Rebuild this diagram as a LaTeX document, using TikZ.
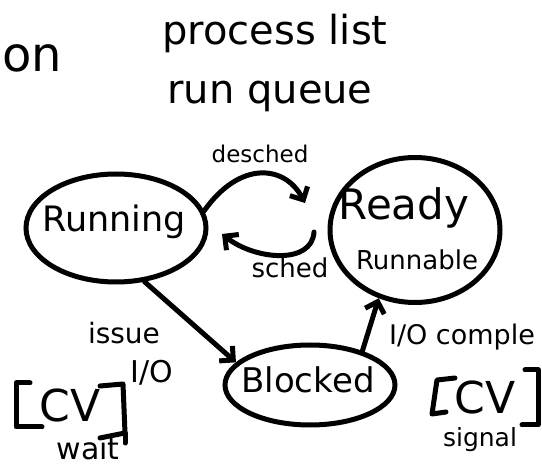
\documentclass[tikz,border=0pt]{standalone}
\usepackage{fontspec}
\setmainfont{DejaVu Sans}
\usetikzlibrary{arrows.meta,shapes.geometric}
\begin{document}
\begin{tikzpicture}[x=1pt,y=-1pt,
  state/.style={draw,ellipse,line width=5pt,inner sep=0pt},
  conn/.style={line width=5pt,-{Straight Barb[length=10pt,width=20pt,line width=5pt]},line cap=round},
  fs/.style={font=\fontsize{#1}{#1}\selectfont},
  brk/.style={line width=5pt,line cap=round,line join=round}]
\useasboundingbox (0,0) rectangle (542,470);
% heading texts
\node[fs=48,anchor=west,inner sep=0pt] (on) at (2,58) {on};
\node[fs=40] (plist) at (275,33) {process list};
\node[fs=40] (rq) at (270,96) {run queue};
% states
\node[state,minimum width=180pt,minimum height=108pt] (run) at (116,228) {};
\node[fs=35] (runtxt) at (114,222) {Running};
\node[state,minimum width=170pt,minimum height=145pt] (ready) at (415,230) {};
\node[fs=42] (readytxt) at (404,208) {Ready};
\node[fs=26] (runnable) at (417,260) {Runnable};
\node[state,minimum width=170pt,minimum height=80pt] (blk) at (310,385) {};
\node[fs=34] (blktxt) at (308,380) {Blocked};
% transitions
\coordinate (d1) at (204,211);
\coordinate (d2) at (305,203);
\draw[conn] (d1) .. controls (240,160) and (285,165) .. (d2);
\node[fs=23] (desched) at (260,154) {desched};
\coordinate (s1) at (314,232);
\coordinate (s2) at (222,234);
\draw[conn] (s1) .. controls (312,265) and (255,260) .. (s2);
\node[fs=26] (sched) at (290,268) {sched};
\draw[conn] (run.-62) -- (blk.163);
\draw[conn] (blk.33) -- (ready.-118);
% labels
\node[fs=28] (issue) at (124,333) {issue};
\node[fs=30] (io1) at (152,373) {I/O};
\node[fs=27] (iocomp) at (462,337) {I/O comple};
% left CV
\node[fs=44] (cvl) at (70,405) {CV};
\draw[brk] (30,383) -- (16,383) -- (16,427) -- (42,427);
\draw[brk] (100,386) -- (123,384) -- (125,433) -- (100,438);
\draw[brk] (125,433) -- (125,443);
\node[fs=30] (wait) at (88,448) {wait};
% right CV
\node[fs=44] (cvr) at (485,397) {CV};
\draw[brk] (455,378) -- (437,380) -- (432,414) -- (446,412);
\draw[brk] (525,370) -- (538,370) -- (538,425) -- (522,425);
\node[fs=25] (signal) at (480,440) {signal};
\end{tikzpicture}
\end{document}
